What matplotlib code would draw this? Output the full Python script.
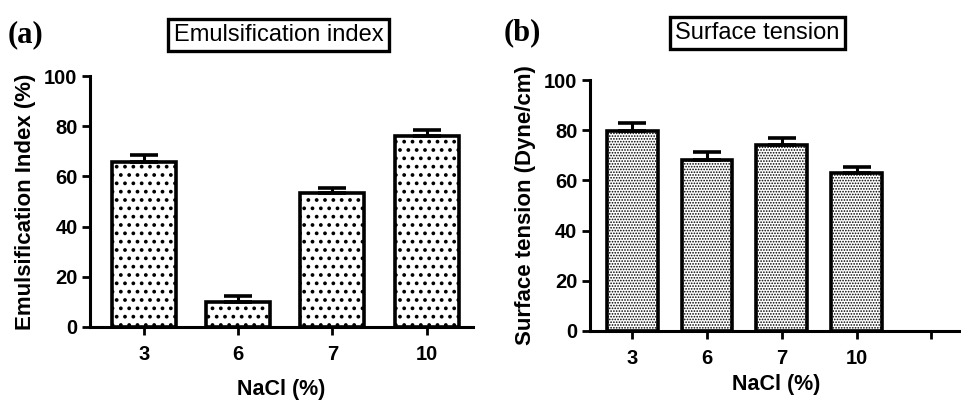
import numpy as np
import matplotlib
matplotlib.use("Agg")
import matplotlib.pyplot as plt

# data
nacl = ["3", "6", "7", "10"]
emul_index = [65.9, 9.8, 53.3, 76.1]
emul_err = [2.6, 2.7, 2.2, 2.5]
surf_tension = [79.7, 68.1, 74.2, 62.8]
surf_err = [3.0, 3.2, 2.8, 2.7]

plt.rcParams["font.family"] = ["Liberation Sans", "DejaVu Sans"]


def style_axes(ax):
    for side in ["top", "right"]:
        ax.spines[side].set_visible(False)
    for side in ["left", "bottom"]:
        ax.spines[side].set_linewidth(2.2)
    ax.tick_params(axis="both", width=2.0, length=6, labelsize=14.5)
    ax.tick_params(axis="x", pad=7)
    ax.tick_params(axis="y", pad=3)
    for lab in ax.get_xticklabels() + ax.get_yticklabels():
        lab.set_fontweight("bold")


def barPanel(ax, values, errs, hatch, hatch_lw, xlim):
    x = np.arange(len(values))
    plt.rcParams["hatch.linewidth"] = hatch_lw
    bars = ax.bar(x, values, width=0.68, facecolor="white", edgecolor="black",
                  linewidth=2.6, hatch=hatch, zorder=2)
    for b in bars:
        if hasattr(b, "set_hatch_linewidth"):
            b.set_hatch_linewidth(hatch_lw)
    # only the upper half of the error bar is visible
    ax.errorbar(x, values, yerr=[np.zeros(len(errs)), errs], fmt="none",
                ecolor="black", elinewidth=2.2, capsize=10, capthick=2.6,
                zorder=3)
    ax.set_ylim(0, 100)
    ax.set_xlim(*xlim)
    ax.set_yticks([0, 20, 40, 60, 80, 100])


fig = plt.figure(figsize=(9.62, 4.0), dpi=100)

# (a) emulsification index
ax1 = fig.add_axes([0.0936, 0.1825, 0.398, 0.6275])
barPanel(ax1, emul_index, emul_err, "..", 1.5, (-0.57, 3.49))
ax1.set_xticks(range(len(nacl)))
ax1.set_xticklabels(nacl)
ax1.set_xlabel("NaCl (%)", fontsize=15.5, fontweight="bold", labelpad=11)
ax1.set_ylabel("Emulsification Index (%)", fontsize=16, fontweight="bold",
               labelpad=6)
style_axes(ax1)

# (b) surface tension, with an empty fifth slot
ax2 = fig.add_axes([0.6133, 0.1725, 0.3867, 0.6275])
barPanel(ax2, surf_tension, surf_err, "......", 0.8, (-0.566, 4.41))
ax2.set_xticks(range(len(nacl) + 1))
ax2.set_xticklabels(nacl + [""])
ax2.set_xlabel("NaCl (%)", fontsize=15.5, fontweight="bold", labelpad=4)
ax2.set_ylabel("Surface tension (Dyne/cm)", fontsize=16, fontweight="bold",
               labelpad=6)
style_axes(ax2)

# boxed panel titles and letters
box = dict(boxstyle="square,pad=0.22", facecolor="white", edgecolor="black",
           linewidth=2.4)
fig.text(0.2895, 0.912, "Emulsification index", fontsize=17, ha="center",
         va="center", bbox=box)
fig.text(0.7875, 0.918, "Surface tension", fontsize=17, ha="center",
         va="center", bbox=box)
fig.text(0.008, 0.912, "(a)", fontsize=22, fontweight="bold",
         family="Liberation Serif", va="center")
fig.text(0.524, 0.918, "(b)", fontsize=22, fontweight="bold",
         family="Liberation Serif", va="center")

fig.savefig("out.png", dpi=100)
